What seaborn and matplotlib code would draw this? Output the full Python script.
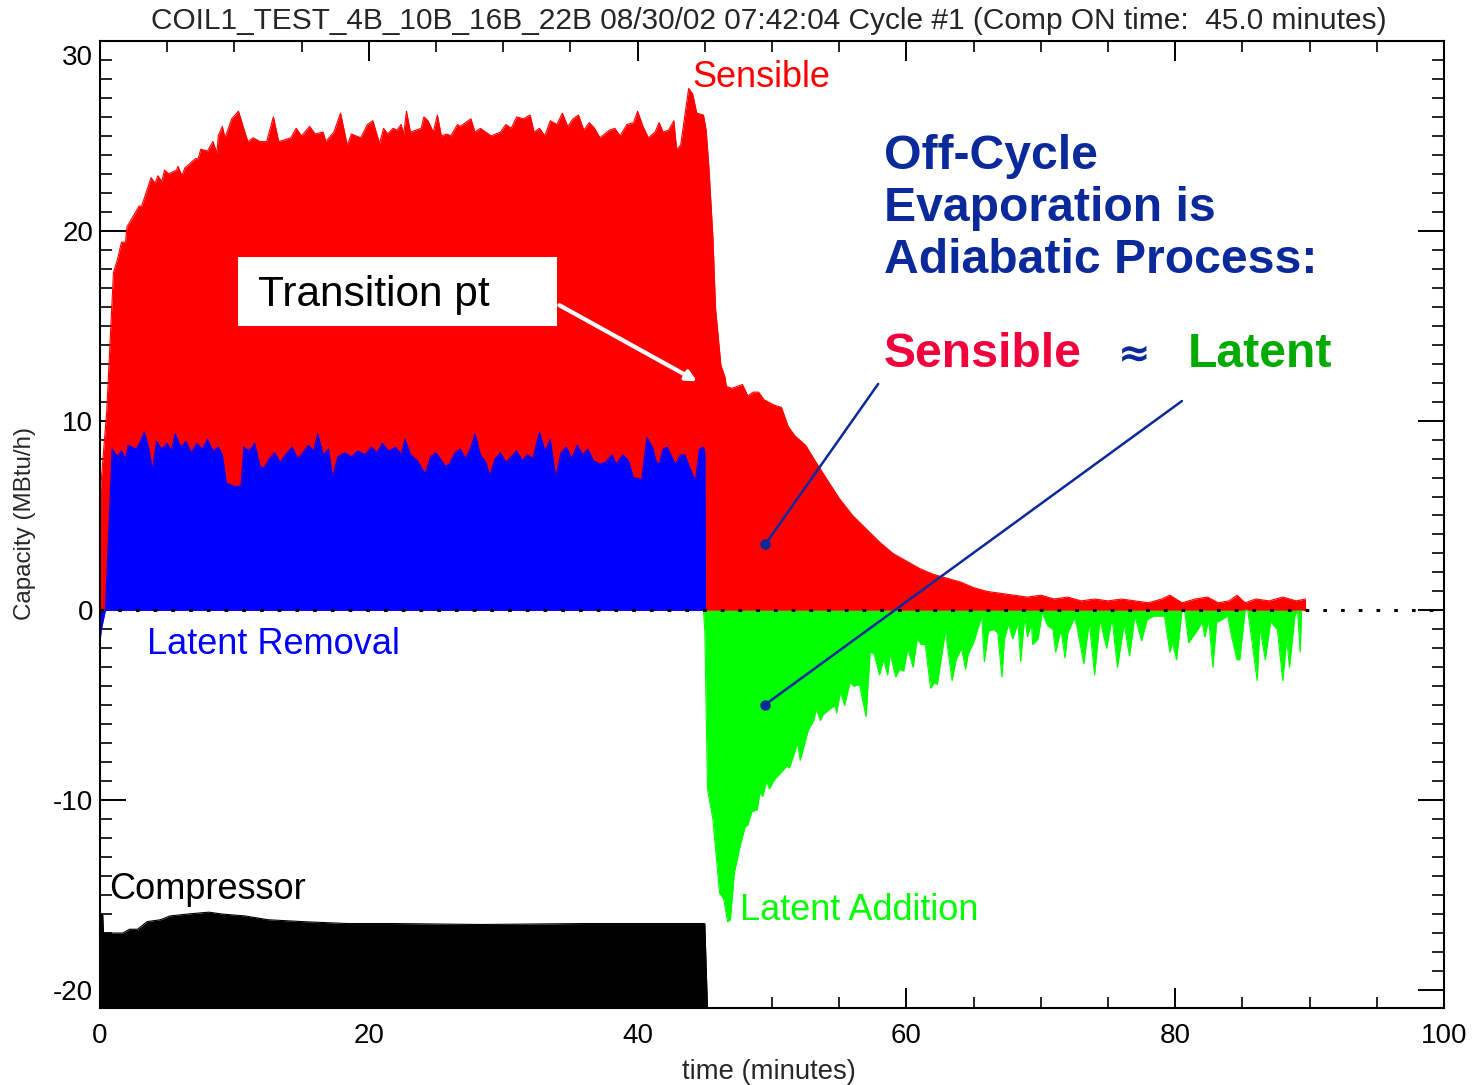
import numpy as np
import pandas as pd
import matplotlib
matplotlib.use("Agg")
import matplotlib.pyplot as plt
import matplotlib.transforms as mtransforms
from matplotlib.patches import Rectangle
from matplotlib.ticker import MultipleLocator
import seaborn as sns

# ---------------- data ----------------
sens_t = [0.0, 0.5, 1.0, 1.3, 1.6, 1.9, 2.0, 2.5, 2.9, 3.1, 3.8, 4.1, 4.3, 4.6, 4.8, 5.1, 5.7, 5.8,
          6.1, 6.3, 7.1, 7.3, 7.5, 8.0, 8.4, 8.7, 8.8, 9.1, 9.3, 9.8, 10.3, 11.0, 11.4, 11.9, 12.4,
          12.9, 13.3, 14.2, 14.6, 15.0, 15.6, 16.0, 16.6, 16.8, 17.4, 17.9, 18.4, 18.7, 19.4, 19.9,
          20.3, 20.8, 21.1, 21.4, 21.8, 22.1, 22.4, 22.6, 22.8, 23.1, 23.9, 24.1, 24.4, 24.8, 25.1,
          25.4, 25.8, 26.1, 26.6, 26.8, 27.2, 27.6, 27.9, 28.3, 29.1, 29.8, 30.2, 30.6, 31.0, 31.5,
          32.0, 32.3, 32.7, 33.1, 33.5, 34.0, 34.4, 34.8, 35.2, 35.6, 36.0, 36.4, 36.8, 37.2, 37.9,
          38.3, 38.7, 39.2, 39.7, 40.0, 40.4, 40.8, 41.3, 41.6, 41.9, 42.3, 42.7, 42.9, 43.2, 43.8,
          44.1, 44.4, 44.9, 45.1, 45.3, 45.6, 45.8, 46.0, 46.2, 46.5, 46.6, 47.0, 47.4, 47.8, 48.2,
          48.6, 49.0, 49.4, 50.2, 50.7, 51.2, 51.7, 52.5, 53.1, 54.0, 55.0, 56.0, 57.0, 58.0, 59.0,
          60.0, 61.0, 62.0, 63.0, 64.0, 65.0, 66.0, 67.0, 68.0, 69.0, 70.0, 71.0, 72.0, 73.0, 74.0,
          75.0, 76.0, 77.0, 78.0, 79.0, 79.6, 80.5, 81.5, 82.4, 83.2, 84.0, 84.6, 85.2, 86.0, 87.0,
          88.0, 89.0, 89.7]
sens_v = [6.0, 10.5, 17.8, 18.5, 19.4, 19.4, 20.2, 20.8, 21.3, 21.3, 22.8, 22.5, 22.9, 22.6, 23.2, 23.0,
          23.2, 23.4, 22.9, 23.3, 23.8, 23.8, 24.3, 24.2, 24.7, 24.1, 25.0, 25.5, 24.9, 25.9, 26.3,
          24.7, 24.9, 24.7, 24.7, 26.0, 24.7, 24.9, 25.4, 25.0, 25.5, 25.1, 25.2, 24.7, 25.2, 26.2,
          24.5, 25.1, 24.9, 25.6, 25.8, 24.6, 25.4, 25.1, 25.4, 25.3, 25.6, 25.1, 26.3, 25.2, 25.4,
          26.0, 25.8, 25.2, 26.1, 25.0, 25.1, 25.0, 25.6, 25.5, 25.7, 25.9, 25.2, 25.4, 25.0, 25.2,
          25.6, 25.4, 26.0, 25.9, 26.1, 25.2, 25.4, 25.0, 25.8, 25.6, 26.2, 25.5, 25.9, 26.1, 25.3,
          25.7, 25.4, 24.9, 25.3, 25.4, 25.0, 25.6, 25.7, 26.3, 25.5, 24.9, 25.2, 25.7, 25.2, 25.3,
          25.8, 24.3, 24.5, 27.5, 27.2, 26.2, 26.1, 25.3, 23.4, 19.7, 15.9, 14.4, 12.9, 12.3, 11.8,
          11.7, 11.8, 11.9, 11.3, 11.5, 11.5, 11.1, 10.8, 10.7, 9.7, 9.2, 8.7, 8.0, 7.0, 5.9, 5.0,
          4.3, 3.6, 3.0, 2.6, 2.2, 1.9, 1.7, 1.5, 1.2, 1.0, 0.9, 0.8, 0.7, 0.8, 0.6, 0.7, 0.5, 0.6,
          0.5, 0.6, 0.5, 0.4, 0.6, 0.8, 0.4, 0.6, 0.7, 0.4, 0.5, 0.8, 0.4, 0.6, 0.5, 0.7, 0.5, 0.6]

lat_t = [0.0, 0.1, 0.4, 0.9, 1.3, 1.6, 1.9, 2.1, 2.7, 3.0, 3.3, 3.6, 3.9, 4.2, 4.6, 5.0, 5.3, 5.6, 6.0,
         6.4, 6.8, 7.2, 7.6, 8.0, 8.4, 8.8, 9.1, 9.4, 9.8, 10.2, 10.5, 10.7, 11.1, 11.5, 11.9, 12.2,
         12.6, 13.0, 13.4, 13.8, 14.3, 14.7, 15.1, 15.5, 15.9, 16.2, 16.6, 17.0, 17.3, 17.7, 18.2,
         18.7, 19.2, 19.7, 20.2, 20.6, 21.0, 21.5, 22.0, 22.4, 22.7, 23.1, 23.6, 24.2, 24.6, 25.0,
         25.3, 25.7, 26.0, 26.4, 26.8, 27.2, 27.6, 27.9, 28.3, 28.7, 29.0, 29.4, 29.8, 30.2, 30.6,
         31.0, 31.4, 31.8, 32.2, 32.7, 33.1, 33.5, 33.9, 34.3, 34.7, 35.1, 35.5, 35.9, 36.3, 36.7,
         37.2, 37.6, 38.1, 38.4, 38.9, 39.3, 39.7, 40.3, 40.7, 41.1, 41.4, 41.6, 41.9, 42.2, 42.8,
         43.2, 43.5, 44.3, 44.6, 44.9, 45.0, 45.05]
lat_v = [-1.6, -1.0, 0.0, 8.5, 8.1, 8.4, 8.0, 8.7, 8.5, 8.9, 9.4, 8.6, 7.4, 8.9, 8.5, 8.8, 8.4, 9.3,
         8.6, 8.9, 8.3, 8.8, 8.5, 9.0, 8.4, 8.6, 8.2, 6.7, 6.6, 6.5, 6.6, 8.6, 8.4, 8.8, 7.6, 7.5,
         8.0, 8.3, 7.8, 8.2, 8.6, 8.0, 8.3, 8.7, 8.4, 9.3, 8.2, 8.5, 7.0, 8.1, 8.3, 8.1, 8.4, 8.2,
         8.6, 8.3, 8.8, 8.4, 8.6, 8.2, 9.0, 8.2, 7.9, 7.2, 8.1, 8.3, 8.0, 7.6, 7.7, 8.3, 8.5, 8.0,
         8.6, 9.3, 8.2, 7.8, 7.1, 8.0, 8.3, 7.8, 8.1, 8.4, 7.9, 8.2, 8.0, 9.4, 8.4, 9.0, 7.0, 8.3,
         8.6, 8.0, 8.7, 8.2, 8.5, 7.9, 7.7, 7.8, 8.2, 7.7, 8.2, 7.9, 7.0, 6.9, 9.1, 8.6, 7.8, 7.7,
         8.5, 8.6, 7.7, 8.2, 8.2, 6.8, 8.5, 8.6, 8.3, 0.0]

add_t = [44.9, 45.0, 45.2, 45.6, 46.1, 46.4, 46.7, 46.9, 47.2, 47.6, 48.0, 48.2, 48.5, 48.9, 49.1,
         49.3, 49.6, 49.8, 50.2, 50.6, 51.1, 51.3, 51.9, 52.1, 52.7, 53.1, 53.3, 53.6, 53.8, 54.3,
         54.7, 54.8, 55.1, 55.4, 55.8, 56.1, 56.5, 57.0, 57.3, 57.6, 58.0, 58.3, 58.6, 58.8, 59.2,
         59.5, 59.8, 60.1, 60.5, 60.8, 61.1, 61.4, 61.8, 62.1, 62.3, 62.9, 63.4, 63.7, 64.1, 64.4,
         64.6, 65.0, 65.3, 65.6, 65.8, 66.1, 66.5, 66.8, 67.1, 67.3, 67.6, 67.9, 68.3, 68.5, 68.8,
         69.0, 69.3, 69.4, 69.8, 70.1, 70.5, 70.9, 71.1, 71.5, 71.8, 72.0, 72.5, 72.7, 73.2, 73.6,
         74.0, 74.4, 74.9, 75.3, 75.7, 76.2, 76.6, 77.0, 77.5, 77.9, 78.4, 79.2, 79.6, 79.8, 80.1,
         80.5, 80.7, 81.0, 81.7, 82.0, 82.2, 82.5, 82.8, 83.1, 83.2, 83.9, 84.2, 84.6, 84.8, 85.2,
         85.4, 86.1, 86.3, 86.7, 87.1, 87.6, 88.0, 88.3, 88.5, 88.9, 89.1, 89.3, 89.4]
add_v = [0.0, -1.1, -9.4, -11.0, -14.9, -15.2, -16.4, -16.3, -13.8, -12.5, -11.4, -11.3, -10.6, -10.5,
         -9.6, -9.8, -9.0, -9.4, -8.9, -8.6, -8.2, -8.3, -7.0, -7.9, -6.3, -5.8, -5.2, -5.8, -5.5,
         -5.2, -5.0, -5.4, -4.3, -5.0, -3.8, -4.0, -3.9, -5.6, -2.2, -2.3, -3.4, -2.6, -3.4, -2.3,
         -3.5, -3.1, -3.2, -2.0, -3.0, -1.5, -1.8, -1.8, -4.1, -3.8, -3.9, -1.1, -3.7, -2.6, -2.0,
         -3.1, -2.3, -1.7, -1.0, -0.3, -2.7, -1.1, -1.0, -1.2, -3.5, -1.5, -0.7, -1.5, -0.7, -2.7,
         -0.3, -1.4, -0.7, -1.8, -1.5, -0.1, -0.8, -1.0, -2.2, -1.0, -2.5, -1.2, -0.4, -0.9, -2.8,
         -0.6, -3.4, -0.5, -2.0, -0.4, -3.0, -0.7, -2.4, -0.3, -1.6, -0.5, -0.3, -0.3, -2.2, -1.7,
         -2.6, -0.05, 0.0, -1.7, -1.0, -0.6, -1.4, -0.5, -3.0, -0.5, -0.6, -0.3, -1.4, -2.6, -2.6,
         0.0, 0.0, -3.7, -0.9, -2.6, -0.6, -1.0, -3.7, -1.5, -3.0, -0.3, 0.0, -2.2, 0.0]

comp_t = [0.0, 0.2, 0.26, 1.7, 2.2, 2.8, 3.5, 4.5, 5.2, 6.5, 8.1, 9.1, 10.8, 12.5, 15.1, 18.4, 21.8,
          28.4, 36.0, 43.3, 45.0, 45.2]
comp_v = [-16.0, -16.0, -17.0, -17.0, -16.8, -16.8, -16.4, -16.3, -16.1, -16.0, -15.9, -16.0,
          -16.1, -16.3, -16.4, -16.5, -16.5, -16.55, -16.5, -16.5, -16.5, -21.0]

x_ticks = [0, 20, 40, 60, 80, 100]
y_ticks = [-20, -10, 0, 10, 20, 30]

TITLE = "COIL1_TEST_4B_10B_16B_22B 08/30/02 07:42:04 Cycle #1 (Comp ON time:  45.0 minutes)"

# ---------------- style ----------------
sns.set_style("ticks")
plt.rcParams["font.family"] = ["Liberation Sans", "DejaVu Sans"]

W, H = 1472, 1085
fig = plt.figure(figsize=(W / 100, H / 100), dpi=100)
ax = fig.add_axes([100 / W, 1 - 1008 / H, (1444 - 100) / W, (1008 - 41) / H])

YMIN, YMAX = -20.95, 30.0

sens = pd.DataFrame({"t": sens_t, "v": sens_v})
lat = pd.DataFrame({"t": lat_t, "v": lat_v})
add = pd.DataFrame({"t": add_t, "v": add_v})
comp = pd.DataFrame({"t": comp_t, "v": comp_v})

RED, BLUE, GREEN = "#ff0000", "#0000ff", "#00ff00"

ax.fill_between(sens["t"], 0, sens["v"], color=RED, lw=0, zorder=2)
sns.lineplot(data=sens, x="t", y="v", ax=ax, color=RED, lw=0.8, zorder=2, estimator=None, sort=False)
ax.fill_between(lat["t"], 0, lat["v"], color=BLUE, lw=0, zorder=3)
sns.lineplot(data=lat, x="t", y="v", ax=ax, color=BLUE, lw=0.8, zorder=3, estimator=None, sort=False)
ax.fill_between(add["t"], 0, add["v"], color=GREEN, lw=0, zorder=3)
sns.lineplot(data=add, x="t", y="v", ax=ax, color=GREEN, lw=0.8, zorder=3, estimator=None, sort=False)
ax.fill_between(comp["t"], YMIN, comp["v"], color="black", lw=0, zorder=3)
sns.lineplot(data=comp, x="t", y="v", ax=ax, color="black", lw=0.8, zorder=3, estimator=None, sort=False)

# zero dotted line
ax.plot([0, 100], [0, 0], color="black", lw=2.2, ls=(0, (1.2, 4.6)), zorder=6)

ax.set_xlim(0, 100)
ax.set_ylim(YMIN, YMAX)
ax.set_xlabel("")
ax.set_ylabel("")

ax.xaxis.set_minor_locator(MultipleLocator(5))
ax.yaxis.set_minor_locator(MultipleLocator(1))
ax.set_xticks(x_ticks)
ax.set_yticks(y_ticks)
ax.set_xticklabels([str(v) for v in x_ticks])
ax.set_yticklabels([str(v) for v in y_ticks])

ax.tick_params(axis="x", which="major", direction="in", length=14.5, width=1.4, top=True, bottom=True,
               labelsize=20, pad=11, colors="black")
ax.tick_params(axis="x", which="minor", direction="in", length=8, width=1.4, top=True, bottom=True)
ax.tick_params(axis="y", which="major", direction="in", length=18.5, width=1.4, left=True, right=True,
               labelsize=20, pad=5, colors="black")
ax.tick_params(axis="y", which="minor", direction="in", length=8.5, width=1.4, left=True, right=True)
for s in ax.spines.values():
    s.set_visible(True)
    s.set_linewidth(1.5)
    s.set_color("black")
    s.set_zorder(7)

# shift "30" label a bit lower, as in the reference
for lab in ax.get_yticklabels():
    if lab.get_text() == "30":
        lab.set_transform(lab.get_transform() + mtransforms.ScaledTranslation(0, -14 / 100, fig.dpi_scale_trans))

# titles / axis labels
fig.text(769 / W, 1 - 21 / H, TITLE, ha="center", va="center", fontsize=21.5)
fig.text(769 / W, 1 - 1072 / H, "time (minutes)", ha="center", va="center", fontsize=19.8)
fig.text(25 / W, 1 - 524 / H, "Capacity (MBtu/h)", ha="center", va="center", rotation=90, fontsize=17.4)

# annotations
ax.text(44.1, 28.1, "Sensible", color=RED, fontsize=26, ha="left", va="center", zorder=8)
ax.text(3.5, -1.8, "Latent Removal", color=BLUE, fontsize=26, ha="left", va="center", zorder=8)
ax.text(47.6, -15.8, "Latent Addition", color=GREEN, fontsize=26, ha="left", va="center", zorder=8)
ax.text(0.65, -14.7, "Compressor", color="black", fontsize=26, ha="left", va="center", zorder=8)

ax.add_patch(Rectangle((10.27, 15.0), 34.0 - 10.27, 18.6 - 15.0, facecolor="white", edgecolor="none", zorder=8))
ax.text(11.75, 16.6, "Transition pt", color="black", fontsize=30.5, ha="left", va="center", zorder=9)
ax.annotate("", xy=(44.6, 12.0), xytext=(34.0, 16.15),
            arrowprops=dict(arrowstyle="-|>,head_length=0.6,head_width=0.3", color="white", lw=3),
            zorder=9)

NAVY = "#0a2a9c"
ax.text(58.3, 21.2, "Off-Cycle\nEvaporation is\nAdiabatic Process:", color=NAVY, fontsize=34.7,
        fontweight="bold", ha="left", va="center", linespacing=1.2, zorder=8)
ax.text(58.3, 13.5, "Sensible", color="#f2003c", fontsize=34.7, fontweight="bold", ha="left", va="center", zorder=8)
ax.text(75.7, 13.5, "\u2248", color=NAVY, fontsize=28, fontweight="bold", ha="left", va="center",
        family=["DejaVu Sans"], zorder=8)
ax.text(80.9, 13.5, "Latent", color="#00aa00", fontsize=34.7, fontweight="bold", ha="left", va="center", zorder=8)

ax.plot([57.9, 49.5], [11.93, 3.48], color=NAVY, lw=1.8, zorder=8)
ax.plot([80.5, 49.5], [11.03, -4.96], color=NAVY, lw=1.8, zorder=8)
ax.plot([49.5, 49.5], [3.48, -4.96], ls="none", marker="o", ms=6.5, color=NAVY, zorder=9)

fig.savefig("out.png", dpi=100)
